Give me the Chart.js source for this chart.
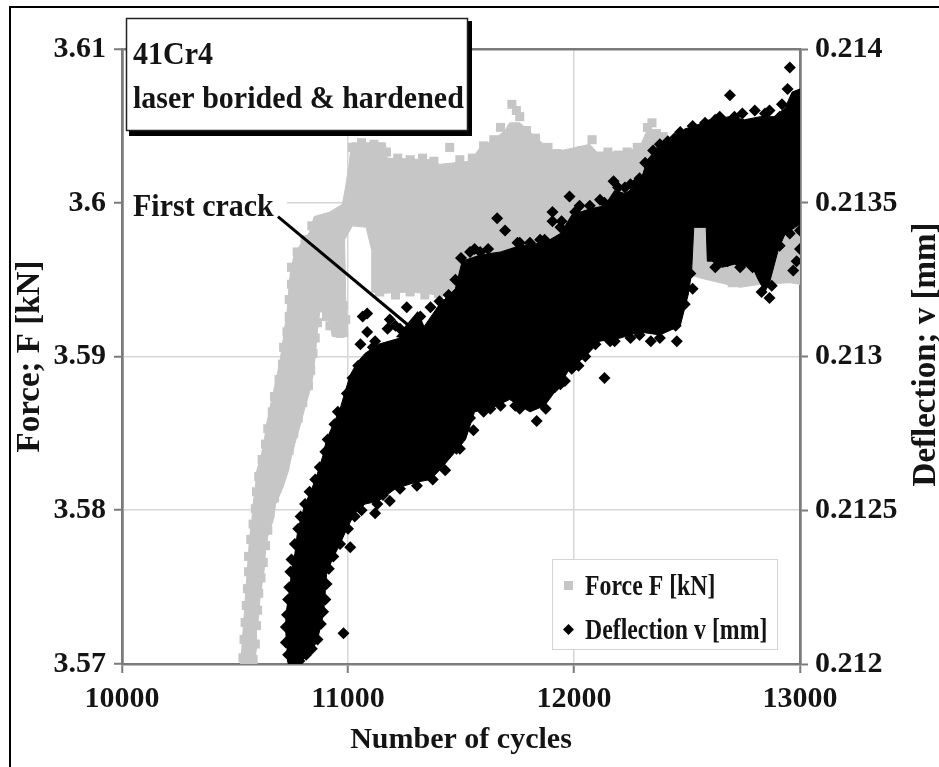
<!DOCTYPE html>
<html>
<head>
<meta charset="utf-8">
<script src="https://cdn.jsdelivr.net/npm/chart.js@4.4.0/dist/chart.umd.min.js"></script>
<style>
html,body{margin:0;padding:0;background:#fff;}
canvas{display:block;}
</style>
</head>
<body>
<canvas id="c" width="939" height="767"></canvas>
<script>
// ---------- axis ticks ----------
const xTickValues = [10000, 11000, 12000, 13000];
const xTickLabels = ['10000', '11000', '12000', '13000'];
const forceTickValues = [3.57, 3.58, 3.59, 3.60, 3.61];
const forceTickLabels = ['3.57', '3.58', '3.59', '3.6', '3.61'];
const deflectionTickValues = [0.212, 0.2125, 0.213, 0.2135, 0.214];
const deflectionTickLabels = ['0.212', '0.2125', '0.213', '0.2135', '0.214'];

// ---------- texts ----------
const seriesLabels = ['Force F [kN]', 'Deflection v [mm]'];
const specimenLines = ['41Cr4', 'laser borided & hardened'];
const crackLabel = 'First crack';
const xTitle = 'Number of cycles';
const forceTitle = 'Force; F [kN]';
const deflectionTitle = 'Deflection; v [mm]';

// ---------- Force F [kN] : outline of the dense grey cloud (cycles, kN) ----------
const forceCloud = [
  [10525,3.5700],[10530,3.5710],[10535,3.5721],[10540,3.5731],[10545,3.5742],[10550,3.5752],
  [10555,3.5762],[10560,3.5773],[10565,3.5783],[10575,3.5794],[10580,3.5804],[10590,3.5814],
  [10595,3.5825],[10615,3.5835],[10630,3.5846],[10640,3.5856],[10655,3.5867],[10670,3.5877],
  [10685,3.5887],[10700,3.5898],[10710,3.5908],[10720,3.5919],[10730,3.5929],[10735,3.5939],
  [10745,3.5955],[10760,3.5965],[10790,3.5973],[10830,3.5981],[10850,3.5991],[10920,3.5994],
  [10975,3.5999],[10990,3.6011],[11005,3.6025],[11015,3.6039],
  [11165,3.6039],[11175,3.6029],[11370,3.6028],[11405,3.6025],[11540,3.6027],[11585,3.6036],
  [11635,3.6040],[11695,3.6047],[11715,3.6052],[11760,3.6052],[11805,3.6046],
  [11850,3.6040],[11915,3.6033],[12070,3.6038],[12100,3.6033],[12225,3.6033],[12290,3.6036],
  [12320,3.6046],[12380,3.6046],[12415,3.6039],[12435,3.6029],[12560,3.6025],[12735,3.6023],
  [12910,3.6023],[13000,3.6021],
  [13000,3.5947],[12955,3.5948],[12825,3.5947],[12735,3.5945],[12645,3.5948],[12560,3.5951],
  [12515,3.5953],[12380,3.5961],[12115,3.5961],[11940,3.5956],[11675,3.5950],[11495,3.5943],
  [11405,3.5940],[11275,3.5942],[11140,3.5941],[11105,3.5942],[11105,3.5969],[11080,3.5984],
  [11020,3.5985],[10985,3.5976],[10990,3.5937],[11000,3.5913],[10930,3.5913],[10910,3.5929],
  [10875,3.5929],[10865,3.5917],[10855,3.5900],[10845,3.5887],[10830,3.5877],[10810,3.5867],
  [10790,3.5856],[10770,3.5846],[10750,3.5835],[10735,3.5825],[10710,3.5814],[10680,3.5804],
  [10670,3.5794],[10645,3.5783],[10635,3.5773],[10630,3.5762],[10620,3.5752],[10610,3.5742],
  [10605,3.5731],[10595,3.5721],[10595,3.5710],[10585,3.5700]
];

// ---------- Force F [kN] : individual square markers (cycles, kN) ----------
const forceTopMarkers = [
  [11020,3.6036],[11060,3.6039],[11115,3.6038],[11170,3.6033],[11220,3.6029],[11275,3.6028],
  [11330,3.6029],[11380,3.6027],[11450,3.6036],[11495,3.6028],[11550,3.6029],[11600,3.6037],
  [11645,3.6041],[11675,3.6049],[11725,3.6064],[11745,3.6060],[11760,3.6056],[11790,3.6047],
  [11830,3.6042],[11885,3.6036],[11925,3.6032],[11980,3.6030],[12035,3.6034],[12080,3.6041],
  [12150,3.6033],[12195,3.6031],[12235,3.6033],[12280,3.6036],[12325,3.6049],[12345,3.6052],
  [12365,3.6045],[12395,3.6043],[12425,3.6034],[12470,3.6028],[12515,3.6026]
];
const forceRiseMarkers = [
  [10535,3.5704],[10540,3.5716],[10545,3.5727],[10550,3.5738],[10555,3.5749],[10560,3.5760],
  [10560,3.5770],[10570,3.5781],[10580,3.5791],[10590,3.5801],[10595,3.5812],[10605,3.5822],
  [10620,3.5833],[10635,3.5843],[10645,3.5853],[10665,3.5864],[10675,3.5874],[10695,3.5885],
  [10710,3.5895],[10715,3.5906],[10730,3.5916],[10740,3.5926],[10740,3.5937],[10750,3.5947],
  [10750,3.5958],[10775,3.5968],[10810,3.5976],[10840,3.5985],
  [10580,3.5703],[10590,3.5713],[10595,3.5725],[10600,3.5735],[10605,3.5746],[10615,3.5756],
  [10625,3.5766],[10635,3.5777],[10645,3.5787],[10655,3.5798],[10675,3.5808],[10695,3.5818],
  [10720,3.5829],[10740,3.5839],[10760,3.5850],[10780,3.5860],[10800,3.5870],[10825,3.5881],
  [10835,3.5891],[10845,3.5902],[10855,3.5912],[10865,3.5922],[10905,3.5926],[10920,3.5920],
  [10965,3.5915],[10990,3.5924],[10980,3.5933]
];
const forceLowMarkers = [
  [11140,3.5942],[11210,3.5940],[11275,3.5942],[11340,3.5940],[11400,3.5941],
  [12545,3.5976],[12570,3.5969],[12560,3.5961],[12585,3.5956],[12710,3.5955],[12755,3.5951],
  [12700,3.5948],[12935,3.5973],[12955,3.5963],[12980,3.5953],[12945,3.5951],[13000,3.5976]
];

// ---------- Deflection v [mm] : outline of the dense black cloud (cycles, mm) ----------
const deflectionCloud = [
  [10735,0.21200],[10730,0.21205],[10725,0.21210],[10725,0.21216],[10735,0.21221],[10745,0.21226],
  [10750,0.21231],[10765,0.21236],[10775,0.21242],[10790,0.21247],[10810,0.21252],[10840,0.21257],
  [10865,0.21262],[10890,0.21268],[10905,0.21273],[10935,0.21278],[10965,0.21283],[10985,0.21288],
  [11010,0.21294],[11040,0.21298],[11075,0.21301],[11135,0.21304],[11230,0.21306],[11320,0.21308],
  [11405,0.21317],[11475,0.21322],[11505,0.21331],[11585,0.21333],[11675,0.21334],[11760,0.21336],
  [11870,0.21337],[11940,0.21340],[11990,0.21346],[12070,0.21348],[12135,0.21349],[12180,0.21354],
  [12225,0.21353],[12290,0.21356],[12325,0.21364],[12360,0.21367],[12425,0.21370],[12490,0.21374],
  [12535,0.21375],[12600,0.21377],[12690,0.21378],[12755,0.21377],[12825,0.21378],[12890,0.21378],
  [12935,0.21381],[12965,0.21386],[13000,0.21387],
  [13000,0.21343],[12980,0.21342],[12935,0.21340],[12905,0.21335],[12865,0.21324],[12845,0.21321],
  [12815,0.21325],[12790,0.21329],[12710,0.21330],[12655,0.21329],[12610,0.21331],[12590,0.21331],
  [12585,0.21342],[12530,0.21342],[12520,0.21327],[12505,0.21320],[12470,0.21310],[12380,0.21307],
  [12290,0.21308],[12205,0.21306],[12115,0.21305],[12050,0.21300],[11980,0.21296],[11940,0.21291],
  [11870,0.21284],[11805,0.21282],[11715,0.21286],[11630,0.21283],[11560,0.21282],[11520,0.21273],
  [11475,0.21269],[11405,0.21263],[11365,0.21260],[11295,0.21259],[11210,0.21257],[11135,0.21253],
  [11075,0.21252],[11030,0.21249],[10995,0.21244],[10965,0.21239],[10930,0.21234],[10905,0.21229],
  [10900,0.21224],[10895,0.21219],[10885,0.21214],[10865,0.21208],[10840,0.21204],[10795,0.21201],
  [10770,0.21200]
];

// ---------- Deflection v [mm] : individual diamond markers (cycles, mm) ----------
const deflectionTopMarkers = [
  [12955,0.21394],[12945,0.21387],[12980,0.21383],[12990,0.21380],[12920,0.21382],[12865,0.21380],
  [12800,0.21380],[12745,0.21379],[12690,0.21385],[12645,0.21378],[12580,0.21376],[12525,0.21375],
  [12470,0.21373],[12415,0.21370],[12380,0.21369],[12350,0.21367],[12315,0.21363],[12290,0.21358],
  [12250,0.21356],[12225,0.21355],[12175,0.21357],[12115,0.21351],[12070,0.21349],[12025,0.21349],
  [11980,0.21352],[11945,0.21344],[11905,0.21344],[11905,0.21347],[11850,0.21338],[11805,0.21337],
  [11750,0.21337],[11695,0.21341],[11660,0.21345],[11620,0.21335],[11560,0.21335],[11540,0.21334],
  [11500,0.21332],[11475,0.21325],[11445,0.21320],[11405,0.21318],[11365,0.21316],[11320,0.21313],
  [11295,0.21310],[11260,0.21316],[11230,0.21309],[11210,0.21310],[11185,0.21312],[11175,0.21309],
  [11175,0.21303],[11120,0.21305],[11110,0.21303],[11085,0.21308],[11085,0.21314],[11065,0.21313],
  [11055,0.21304],
  [11585,0.21334],[11760,0.21337],[11870,0.21338],[11940,0.21342],[12005,0.21347],[12135,0.21350],
  [12195,0.21355],[12270,0.21356],[12390,0.21368],[12445,0.21371],[12625,0.21377],[12710,0.21378],
  [12845,0.21379],[12910,0.21378],
  [13000,0.21383],[12995,0.21375],[13000,0.21367],[12995,0.21359],[13000,0.21351],[12995,0.21346]
];
const deflectionRiseMarkers = [
  [11045,0.21297],[11020,0.21293],[10995,0.21288],[10955,0.21282],[10940,0.21278],[10910,0.21273],
  [10900,0.21269],[10875,0.21264],[10855,0.21260],[10830,0.21256],[10810,0.21252],[10790,0.21248],
  [10780,0.21244],[10765,0.21239],[10750,0.21234],[10745,0.21230],[10740,0.21225],[10735,0.21221],
  [10730,0.21216],[10725,0.21212],[10725,0.21207],[10735,0.21203],[10755,0.21201],
  [10785,0.21201],[10815,0.21203],[10840,0.21205],[10865,0.21208],[10880,0.21213],[10890,0.21217],
  [10900,0.21221],[10905,0.21226],[10915,0.21231],[10935,0.21235],[10965,0.21239],[10980,0.21210],
  [11000,0.21244],[11010,0.21238],[11030,0.21248],[11060,0.21250],[11120,0.21249]
];
const deflectionLowMarkers = [
  [11155,0.21255],[11185,0.21253],[11130,0.21252],[11230,0.21257],[11305,0.21258],[11375,0.21260],
  [11430,0.21263],[11480,0.21270],[11495,0.21270],[11540,0.21280],[11555,0.21276],[11600,0.21282],
  [11615,0.21288],[11675,0.21284],[11740,0.21284],[11790,0.21287],[11835,0.21279],[11875,0.21283],
  [11870,0.21287],[11915,0.21290],[11940,0.21291],[11990,0.21296],[12050,0.21300],[12135,0.21293],
  [12095,0.21304],[12180,0.21305],[12250,0.21306],[12325,0.21312],[12340,0.21305],[12410,0.21312],
  [12450,0.21310],[12455,0.21305],[12490,0.21317],[12525,0.21322],[12515,0.21327],[12680,0.21331],
  [12790,0.21329],[12830,0.21321],[12865,0.21319],[12875,0.21323],[12850,0.21327],[12910,0.21336],
  [12955,0.21340],[12985,0.21331],[12970,0.21328],[13000,0.21335],[13000,0.21341],
  [11630,0.21283],[11760,0.21283],[11960,0.21292],[12020,0.21297],[12160,0.21305],[12290,0.21307],
  [12380,0.21306],[12625,0.21329],[12735,0.21329]
];

// ---------- "First crack" arrow (cycles, kN) ----------
const crackArrowFrom = [10690, 3.5991];
const crackArrowTo = [11376, 3.5907];

// ---------- styling ----------
const SERIF = "'Liberation Serif', 'Times New Roman', serif";
const INK = '#141414';
const GREY = '#c6c6c6';
const GRID = '#d6d6d6';
const FRAME = '#7b7b7b';
Chart.defaults.font.family = SERIF;
Chart.defaults.font.weight = 'bold';
Chart.defaults.color = INK;

const toXY = arr => arr.map(([x, y]) => ({x, y}));
const bigFont = {family: SERIF, size: 30, weight: 'bold'};

function stretchedText(ctx, text, x, y, size, sx, sy, align) {
  ctx.save();
  ctx.translate(x, y);
  ctx.scale(sx, sy);
  ctx.font = 'bold ' + size + 'px ' + SERIF;
  ctx.textAlign = align || 'left';
  ctx.textBaseline = 'alphabetic';
  ctx.fillStyle = INK;
  ctx.fillText(text, 0, 0);
  ctx.restore();
}

const decorations = {
  id: 'decorations',
  afterDatasetsDraw(chart) {
    const {ctx, chartArea: a, scales} = chart;
    const sx = scales.x, sy = scales.y;
    // "First crack" label with white background
    ctx.save();
    ctx.fillStyle = '#fff';
    ctx.fillRect(a.left + 2, 188, 163, 34);
    ctx.restore();
    stretchedText(ctx, crackLabel, a.left + 11, 216, 30, 1, 1.08);
    // arrow
    const x0 = sx.getPixelForValue(crackArrowFrom[0]), y0 = sy.getPixelForValue(crackArrowFrom[1]);
    const x1 = sx.getPixelForValue(crackArrowTo[0]), y1 = sy.getPixelForValue(crackArrowTo[1]);
    const ang = Math.atan2(y1 - y0, x1 - x0);
    const L = 34, W = 17;
    const bx = x1 - L * Math.cos(ang), by = y1 - L * Math.sin(ang);
    ctx.save();
    ctx.strokeStyle = '#000';
    ctx.lineWidth = 3;
    ctx.beginPath(); ctx.moveTo(x0, y0); ctx.lineTo(bx + 2 * Math.cos(ang), by + 2 * Math.sin(ang)); ctx.stroke();
    ctx.fillStyle = '#000';
    ctx.beginPath();
    ctx.moveTo(x1, y1);
    ctx.lineTo(bx + W * Math.sin(ang), by - W * Math.cos(ang));
    ctx.lineTo(bx - W * Math.sin(ang), by + W * Math.cos(ang));
    ctx.closePath(); ctx.fill();
    ctx.restore();
    // legend box (inside plot, bottom right)
    const lx = a.right - 248, ly = a.bottom - 105, lw = 225, lh = 90;
    ctx.save();
    ctx.fillStyle = '#fff';
    ctx.fillRect(lx, ly, lw, lh);
    ctx.strokeStyle = '#d4d4d4';
    ctx.lineWidth = 1;
    ctx.strokeRect(lx + 0.5, ly + 0.5, lw, lh);
    ctx.fillStyle = GREY;
    ctx.fillRect(lx + 12, ly + 22, 9, 9);
    ctx.fillStyle = '#000';
    ctx.beginPath();
    ctx.moveTo(lx + 16.5, ly + 65); ctx.lineTo(lx + 22, ly + 70.5);
    ctx.lineTo(lx + 16.5, ly + 76); ctx.lineTo(lx + 11, ly + 70.5); ctx.closePath(); ctx.fill();
    ctx.restore();
    stretchedText(ctx, seriesLabels[0], lx + 33, ly + 36, 28, 0.85, 1.08);
    stretchedText(ctx, seriesLabels[1], lx + 33, ly + 80, 28, 0.85, 1.08);
  },
  afterDraw(chart) {
    const {ctx, chartArea: a} = chart;
    // specimen box with shadow
    ctx.save();
    ctx.fillStyle = '#000';
    ctx.fillRect(a.left + 7, 21, 343, 115);
    ctx.fillStyle = '#fff';
    ctx.fillRect(a.left + 4, 18, 342, 113);
    ctx.strokeStyle = '#222';
    ctx.lineWidth = 1.5;
    ctx.strokeRect(a.left + 4.5, 18.5, 341, 112);
    ctx.restore();
    stretchedText(ctx, specimenLines[0], a.left + 11, 64, 30, 1, 1.08);
    stretchedText(ctx, specimenLines[1], a.left + 11, 108, 30, 1, 1.08);
    // right axis title, reading bottom-to-top
    ctx.save();
    ctx.translate(926, (a.top + a.bottom) / 2 - 2);
    ctx.rotate(-Math.PI / 2);
    ctx.font = 'bold 33px ' + SERIF;
    ctx.textAlign = 'center';
    ctx.textBaseline = 'middle';
    ctx.fillStyle = INK;
    ctx.fillText(deflectionTitle, 0, 0);
    ctx.restore();
    // outer frame (top and left edges)
    ctx.save();
    ctx.fillStyle = '#000';
    ctx.fillRect(9, 6, 930, 2);
    ctx.fillRect(9, 6, 2, 761);
    ctx.restore();
  }
};

const edgeX = v => v === xTickValues[0] || v === xTickValues[xTickValues.length - 1];

new Chart(document.getElementById('c'), {
  type: 'scatter',
  data: {
    datasets: [
      {
        label: seriesLabels[0],
        data: toXY([...forceTopMarkers, ...forceRiseMarkers, ...forceLowMarkers]),
        yAxisID: 'y', order: 3,
        pointStyle: 'rect', pointRadius: 6.4, pointHoverRadius: 6.4, pointBorderWidth: 0,
        backgroundColor: GREY, borderColor: GREY
      },
      {
        label: seriesLabels[1],
        data: toXY([...deflectionTopMarkers, ...deflectionRiseMarkers, ...deflectionLowMarkers]),
        yAxisID: 'y2', order: 1,
        pointStyle: 'rectRot', pointRadius: 6, pointHoverRadius: 6, pointBorderWidth: 0,
        backgroundColor: '#000', borderColor: '#000'
      },
      {
        label: seriesLabels[0] + ' (dense)',
        data: toXY(forceCloud),
        yAxisID: 'y', order: 4,
        showLine: true, fill: 'shape', tension: 0,
        pointRadius: 0, pointHoverRadius: 0, borderWidth: 1,
        backgroundColor: GREY, borderColor: GREY
      },
      {
        label: seriesLabels[1] + ' (dense)',
        data: toXY(deflectionCloud),
        yAxisID: 'y2', order: 2,
        showLine: true, fill: 'shape', tension: 0,
        pointRadius: 0, pointHoverRadius: 0, borderWidth: 1,
        backgroundColor: '#000', borderColor: '#000'
      }
    ]
  },
  options: {
    responsive: false,
    animation: false,
    devicePixelRatio: 1,
    events: [],
    layout: {padding: {top: 49, left: 0, right: 0, bottom: 0}},
    plugins: {legend: {display: false}, tooltip: {enabled: false}},
    scales: {
      x: {
        type: 'linear', position: 'bottom', min: 10000, max: 13000,
        afterBuildTicks: s => { s.ticks = xTickValues.map(v => ({value: v})); },
        afterFit: s => { s.height = 103; },
        ticks: {callback: (v, i) => xTickLabels[i], font: bigFont, color: INK, padding: 8, maxRotation: 0, autoSkip: false},
        grid: {
          color: c => (c.tick && edgeX(c.tick.value)) ? FRAME : GRID,
          lineWidth: c => (c.tick && edgeX(c.tick.value)) ? 2.5 : 1.5,
          tickColor: FRAME, tickLength: 9, tickWidth: 2
        },
        border: {display: true, color: FRAME, width: 2.5},
        title: {display: true, text: xTitle, font: bigFont, color: INK, padding: {top: 0, bottom: 9}}
      },
      y: {
        type: 'linear', position: 'left', min: 3.57, max: 3.61,
        afterBuildTicks: s => { s.ticks = forceTickValues.map(v => ({value: v})); },
        afterFit: s => { s.width = 122; },
        ticks: {callback: (v, i) => forceTickLabels[i], font: bigFont, color: INK, padding: 8, autoSkip: false},
        grid: {
          color: c => (c.tick && c.tick.value > 3.6095) ? FRAME : GRID,
          lineWidth: c => (c.tick && c.tick.value > 3.6095) ? 2.5 : 1.5,
          tickColor: FRAME, tickLength: 8, tickWidth: 2
        },
        border: {display: true, color: FRAME, width: 2.5},
        title: {display: true, text: forceTitle, font: {family: SERIF, size: 33, weight: 'bold'}, color: INK, padding: {top: 11, bottom: 0}}
      },
      y2: {
        type: 'linear', position: 'right', min: 0.212, max: 0.214,
        afterBuildTicks: s => { s.ticks = deflectionTickValues.map(v => ({value: v})); },
        afterFit: s => { s.width = 139; },
        ticks: {callback: (v, i) => deflectionTickLabels[i], font: bigFont, color: INK, padding: 7, autoSkip: false},
        grid: {drawOnChartArea: false, tickColor: FRAME, tickLength: 8, tickWidth: 2},
        border: {display: true, color: FRAME, width: 2.5}
      }
    }
  },
  plugins: [decorations]
});
</script>
</body>
</html>
